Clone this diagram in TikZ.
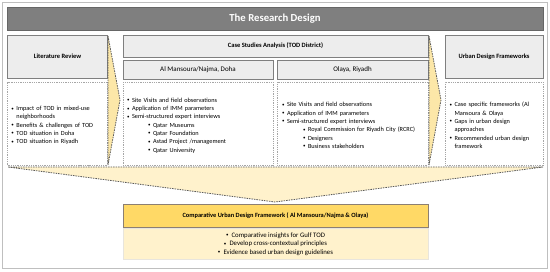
\documentclass[tikz,border=0pt]{standalone}
\usepackage{fontspec}
\setmainfont{Carlito}
\usepackage{xcolor}
\usetikzlibrary{positioning}
\definecolor{rdgray}{HTML}{7F7F7F}
\definecolor{rdhead}{HTML}{EDEDED}
\definecolor{rdgold}{HTML}{FFD966}
\definecolor{rdcream}{HTML}{FFF2CC}
\definecolor{rdchev}{HTML}{FCE7A8}
\newcommand{\rdbul}{\raisebox{0.5pt}{\fontsize{5}{5}\selectfont\textbullet}}
\newcommand{\bitem}{\par\leftskip=0pt\hangindent=5pt\hangafter=1\noindent\hbox to 5pt{\rdbul\hss}}
\newcommand{\sitem}{\par\leftskip=21pt\hangindent=5pt\hangafter=1\noindent\hbox to 5pt{\rdbul\hss}}

\begin{document}
\begin{tikzpicture}[x=1pt, y=-1pt,
      hdr/.style={draw=rdgray, fill=rdhead, line width=0.8pt,
                  inner sep=0pt, align=center,
                  font=\fontsize{6.5}{9}\selectfont\bfseries},
      sub/.style={hdr, font=\fontsize{7}{9}\selectfont},
      body/.style={draw=black!35, fill=white, line width=0.6pt,
                  dash pattern=on 1pt off 0.8pt, inner sep=4pt,
                  align=left, font=\fontsize{6.3}{8.3}\selectfont},
      chev/.style={draw=black!65, line width=0.8pt,
                  dash pattern=on 1.5pt off 1pt}
  ]
    \useasboundingbox (0,0) rectangle (550,272);
    \draw[black!25, line width=0.7pt] (2.5,2.5) rectangle (547,268);

    % title
    \node[draw=black!60, fill=rdgray, line width=0.8pt, minimum width=536pt,
          minimum height=23pt, text=white, font=\fontsize{10.7}{12}\selectfont\bfseries]
          (title) at (275,18.5) {The Research Design};

    % funnel to the comparison
    \coordinate (fl) at (8,167); \coordinate (fr) at (543,167);
    \coordinate (ftip) at (275,202);
    \draw[chev, fill=rdcream] (fl) -- (fr) -- (ftip) -- cycle;

    % columns
    \node[hdr, minimum width=100pt, minimum height=43pt] (lit) at (57.5,56.5) {Literature Review};
    \node[body, text width=92pt, minimum height=83pt] (litb) at (57.5,123.5) {%
      \bitem Impact of TOD in mixed-use\newline neighborhoods
      \bitem Benefits \& challenges of TOD
      \bitem TOD situation in Doha
      \bitem TOD situation in Riyadh\par};

    \node[hdr, minimum width=305pt, minimum height=22pt] (cs) at (275.5,46) {Case Studies Analysis (TOD District)};
    \node[sub, minimum width=150pt, minimum height=19pt] (mans) at (198,69.5) {Al Mansoura/Najma, Doha};
    \node[sub, minimum width=151pt, minimum height=19pt] (olaya) at (352.5,69.5) {Olaya, Riyadh};
    \node[body, text width=142pt, minimum height=83pt] (mansb) at (198,123.5) {%
      \bitem Site Visits and field observations
      \bitem Application of IMM parameters
      \bitem Semi-structured expert interviews
      \sitem Qatar Museums
      \sitem Qatar Foundation
      \sitem Astad Project /management
      \sitem Qatar University\par};
    \node[body, text width=141pt, minimum height=83pt, inner xsep=5pt] (olayab) at (352.5,123.5) {%
      \bitem Site Visits and field observations
      \bitem Application of IMM parameters
      \bitem Semi-structured expert interviews
      \sitem Royal Commission for Riyadh City (RCRC)
      \sitem Designers
      \sitem Business stakeholders\par};

    \node[hdr, minimum width=98pt, minimum height=43pt] (udf) at (494,56.5) {Urban Design Frameworks};
    \node[body, text width=89pt, minimum height=83pt, inner xsep=4.5pt] (udfb) at (494,123.5) {%
      \bitem Case specific frameworks (Al\newline Mansoura \& Olaya
      \bitem Gaps in urban design\newline approaches
      \bitem Recommended urban design\newline framework\par};

    % chevrons between columns
    \coordinate (c1) at (120,100); \coordinate (c2) at (441,100);
    \draw[chev, fill=rdchev] (108,36) -- (c1) -- (108,165) -- cycle;
    \draw[chev, fill=rdchev] (429,36) -- (c2) -- (429,165) -- cycle;

    % comparison
    \node[draw=rdgray!80!brown, fill=rdgold, line width=0.8pt, minimum width=305pt,
          minimum height=23pt, inner sep=0pt, font=\fontsize{6.4}{9}\selectfont\bfseries]
          (cmp) at (275.5,215.5) {Comparative Urban Design Framework ( Al Mansoura/Najma \& Olaya)};
    \node[draw=rdcream!70!black!30, fill=rdcream, line width=0.6pt, minimum width=305pt,
          minimum height=31pt, inner sep=0pt, align=center,
          font=\fontsize{6.8}{8.7}\selectfont, below=0.8pt of cmp] (cmpb) {%
      \rdbul\ \ Comparative insights for Gulf TOD\\
      \rdbul\ \ Develop cross-contextual principles\\
      \rdbul\ \ Evidence based urban design guidelines};
  \end{tikzpicture}
\end{document}
